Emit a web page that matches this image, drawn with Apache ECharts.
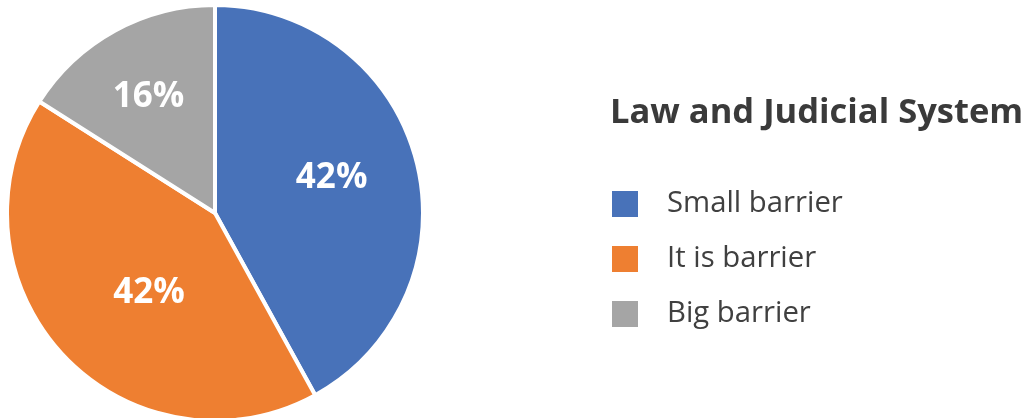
<!DOCTYPE html>
<html>
<head>
<meta charset="utf-8">
<script src="https://cdn.jsdelivr.net/npm/echarts@6/dist/echarts.min.js"></script>
<style>
  html, body { margin: 0; padding: 0; background: #ffffff; }
  #chart { width: 1029px; height: 418px; }
</style>
</head>
<body>
<div id="chart"></div>
<script>
// Survey answers for one sector
const chartTitle = 'Law and Judicial System';
const categories = ['Small barrier', 'It is barrier', 'Big barrier'];
const shares = [42, 42, 16];
const sliceColors = ['#4872B9', '#EE7F31', '#A5A5A5'];

// Nudges for the in-slice percentage labels (pixels)
const labelShift = [[13, -8], [12, 7], [-15, -22]];

const chart = echarts.init(document.getElementById('chart'), null, { renderer: 'canvas' });

chart.setOption({
  backgroundColor: '#ffffff',
  animation: false,
  color: sliceColors,
  title: {
    text: chartTitle,
    left: 610,
    top: 96,
    padding: 0,
    textStyle: {
      fontFamily: 'Open Sans',
      fontWeight: 'bold',
      fontSize: 34.5,
      color: '#3a3a3a'
    }
  },
  legend: {
    orient: 'vertical',
    left: 610,
    top: 189,
    padding: 0,
    itemWidth: 28,
    itemHeight: 28,
    itemGap: 25,
    icon: 'rect',
    selectedMode: false,
    data: categories,
    textStyle: {
      fontFamily: 'Open Sans',
      fontSize: 29.3,
      lineHeight: 28,
      color: '#404040',
      padding: [0, 0, 0, 23]
    }
  },
  series: [{
    type: 'pie',
    center: [215, 213],
    radius: 208,
    startAngle: 90,
    clockwise: true,
    avoidLabelOverlap: false,
    itemStyle: { borderColor: '#ffffff', borderWidth: 4 },
    label: {
      show: true,
      position: 'inside',
      formatter: '{c}%',
      fontFamily: 'Open Sans',
      fontWeight: 'bold',
      fontSize: 35,
      color: '#ffffff'
    },
    labelLine: { show: false },
    labelLayout: function (p) {
      const s = labelShift[p.dataIndex];
      return { dx: s[0], dy: s[1] };
    },
    emphasis: { disabled: true },
    data: categories.map((name, i) => ({ name: name, value: shares[i] }))
  }]
});
</script>
</body>
</html>
